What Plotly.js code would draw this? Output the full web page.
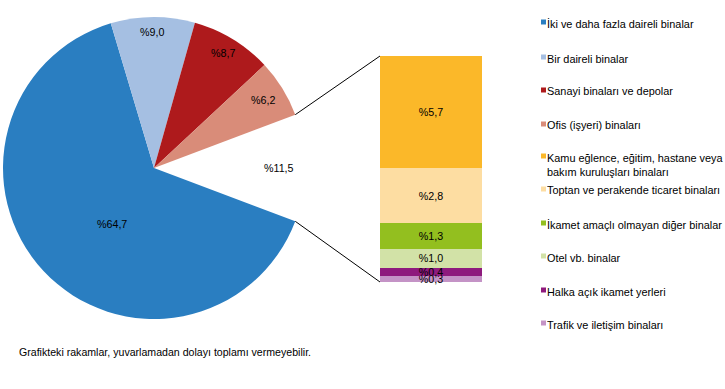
<!DOCTYPE html>
<html><head><meta charset="utf-8">
<script src="https://cdn.plot.ly/plotly-3.0.1.min.js"></script>
<style>html,body{margin:0;padding:0;background:#fff}#chart{width:725px;height:389px}</style>
</head><body><div id="chart"></div>
<script>
// ---- data ----
var pieLabels = ['İki ve daha fazla daireli binalar','Bir daireli binalar','Sanayi binaları ve depolar','Ofis (işyeri) binaları','Diğer'];
var pieValues = [64.7, 9.0, 8.7, 6.2, 11.5];
var pieColors = ['#2A7EC1','#A5BFE2','#AE1A1C','#D98C79','rgba(0,0,0,0)'];

var barLabels = ['Kamu eğlence, eğitim, hastane veya<br>bakım kuruluşları binaları','Toptan ve perakende ticaret binaları','İkamet amaçlı olmayan diğer binalar','Otel vb. binalar','Halka açık ikamet yerleri','Trafik ve iletişim binaları'];
var barValues = [5.7, 2.8, 1.3, 1.0, 0.4, 0.3];
var barColors = ['#FBB829','#FDDDA2','#93BF1F','#D2E2A7','#8E1A7D','#C493C6'];

var legendNames = ['İki ve daha fazla daireli binalar','Bir daireli binalar','Sanayi binaları ve depolar','Ofis (işyeri) binaları',
  'Kamu eğlence, eğitim, hastane veya<br>bakım kuruluşları binaları','Toptan ve perakende ticaret binaları','İkamet amaçlı olmayan diğer binalar','Otel vb. binalar','Halka açık ikamet yerleri','Trafik ve iletişim binaları'];
var legendColors = ['#2A7EC1','#A5BFE2','#AE1A1C','#D98C79','#FBB829','#FDDDA2','#93BF1F','#D2E2A7','#8E1A7D','#C493C6'];
var footnote = 'Grafikteki rakamlar, yuvarlamadan dolayı toplamı vermeyebilir.';

// ---- helpers ----
var W = 725, H = 389;
function px(x){return x / W;}
function py(y){return 1 - y / H;}
function fmt(v){return '%' + v.toFixed(1).replace('.', ',');}
var FONT = 'Liberation Sans, Arial, sans-serif';

// pie geometry (pixels)
var cx = 154, cy = 168, r = 151;
var total = pieValues.reduce(function(a,b){return a+b;},0);
var otherAngle = pieValues[4] / total * 360;
var rot = 90 + otherAngle / 2; // first slice starts right after the exploded "other" slice

var traces = [];
traces.push({
  type:'pie', labels:pieLabels, values:pieValues, sort:false, direction:'clockwise', rotation:rot,
  marker:{colors:pieColors, line:{width:0}}, textinfo:'none', hoverinfo:'label+value', showlegend:false,
  domain:{x:[px(cx - r), px(cx + r)], y:[py(cy + r), py(cy - r)]}
});

// stacked bar: bottom to top
for (var i = barValues.length - 1; i >= 0; i--) {
  traces.push({
    type:'bar', x:[0], y:[barValues[i]], width:[1], name:barLabels[i],
    marker:{color:barColors[i], line:{width:0}},
    text:[fmt(barValues[i])], textposition:'inside', insidetextanchor:'middle', constraintext:'none',
    textfont:{family:FONT, size:10.7, color:'#000'}, showlegend:false, xaxis:'x', yaxis:'y', cliponaxis:false
  });
}
var barTotal = barValues.reduce(function(a,b){return a+b;},0);

var bx0 = 380, bx1 = 482, by0 = 56, by1 = 282;

var annotations = [];
var shapes = [];
// pie labels
var pieLabelPos = [[112,224],[152,32],[223,53],[263,100],[279,168]];
for (var j = 0; j < pieValues.length; j++) {
  annotations.push({xref:'paper', yref:'paper', x:px(pieLabelPos[j][0]), y:py(pieLabelPos[j][1]), text:fmt(pieValues[j]),
    showarrow:false, xanchor:'center', yanchor:'middle', font:{family:FONT, size:10.7, color:'#000'}});
}
// connector lines from pie edge to bar corners
var a1 = (90 - otherAngle/2) * Math.PI/180, a2 = (90 + otherAngle/2) * Math.PI/180;
shapes.push({type:'line', xref:'paper', yref:'paper', x0:px(cx + r*Math.sin(a1)), y0:py(cy - r*Math.cos(a1)), x1:px(bx0), y1:py(by0), line:{color:'#000', width:1}});
shapes.push({type:'line', xref:'paper', yref:'paper', x0:px(cx + r*Math.sin(a2)), y0:py(cy - r*Math.cos(a2)), x1:px(bx0), y1:py(by1), line:{color:'#000', width:1}});

// legend
var legY = [22, 57, 90, 124, 156, 189, 223, 256, 290, 323];
for (var k = 0; k < legendNames.length; k++) {
  var yy = legY[k];
  shapes.push({type:'rect', xref:'paper', yref:'paper', x0:px(541), x1:px(546), y0:py(yy+2.5), y1:py(yy-2.5), fillcolor:legendColors[k], line:{width:0}});
  annotations.push({xref:'paper', yref:'paper', x:px(545), y:py(yy - 6.5), text:legendNames[k], showarrow:false, align:'left',
    xanchor:'left', yanchor:'top', font:{family:FONT, size:10.9, color:'#000'}});
}
// footnote
annotations.push({xref:'paper', yref:'paper', x:px(17), y:py(352), text:footnote, showarrow:false, xanchor:'left', yanchor:'middle',
  font:{family:FONT, size:10.6, color:'#000'}});

var layout = {
  width:W, height:H, margin:{l:0,r:0,t:0,b:0}, paper_bgcolor:'#fff', plot_bgcolor:'rgba(0,0,0,0)',
  barmode:'stack', bargap:0, showlegend:false,
  xaxis:{domain:[px(bx0), px(bx1)], range:[-0.5,0.5], visible:false, fixedrange:true},
  yaxis:{domain:[py(by1), py(by0)], range:[0, barTotal], visible:false, fixedrange:true},
  annotations:annotations, shapes:shapes, font:{family:FONT}
};
Plotly.newPlot('chart', traces, layout, {displayModeBar:false, staticPlot:true});
</script></body></html>
